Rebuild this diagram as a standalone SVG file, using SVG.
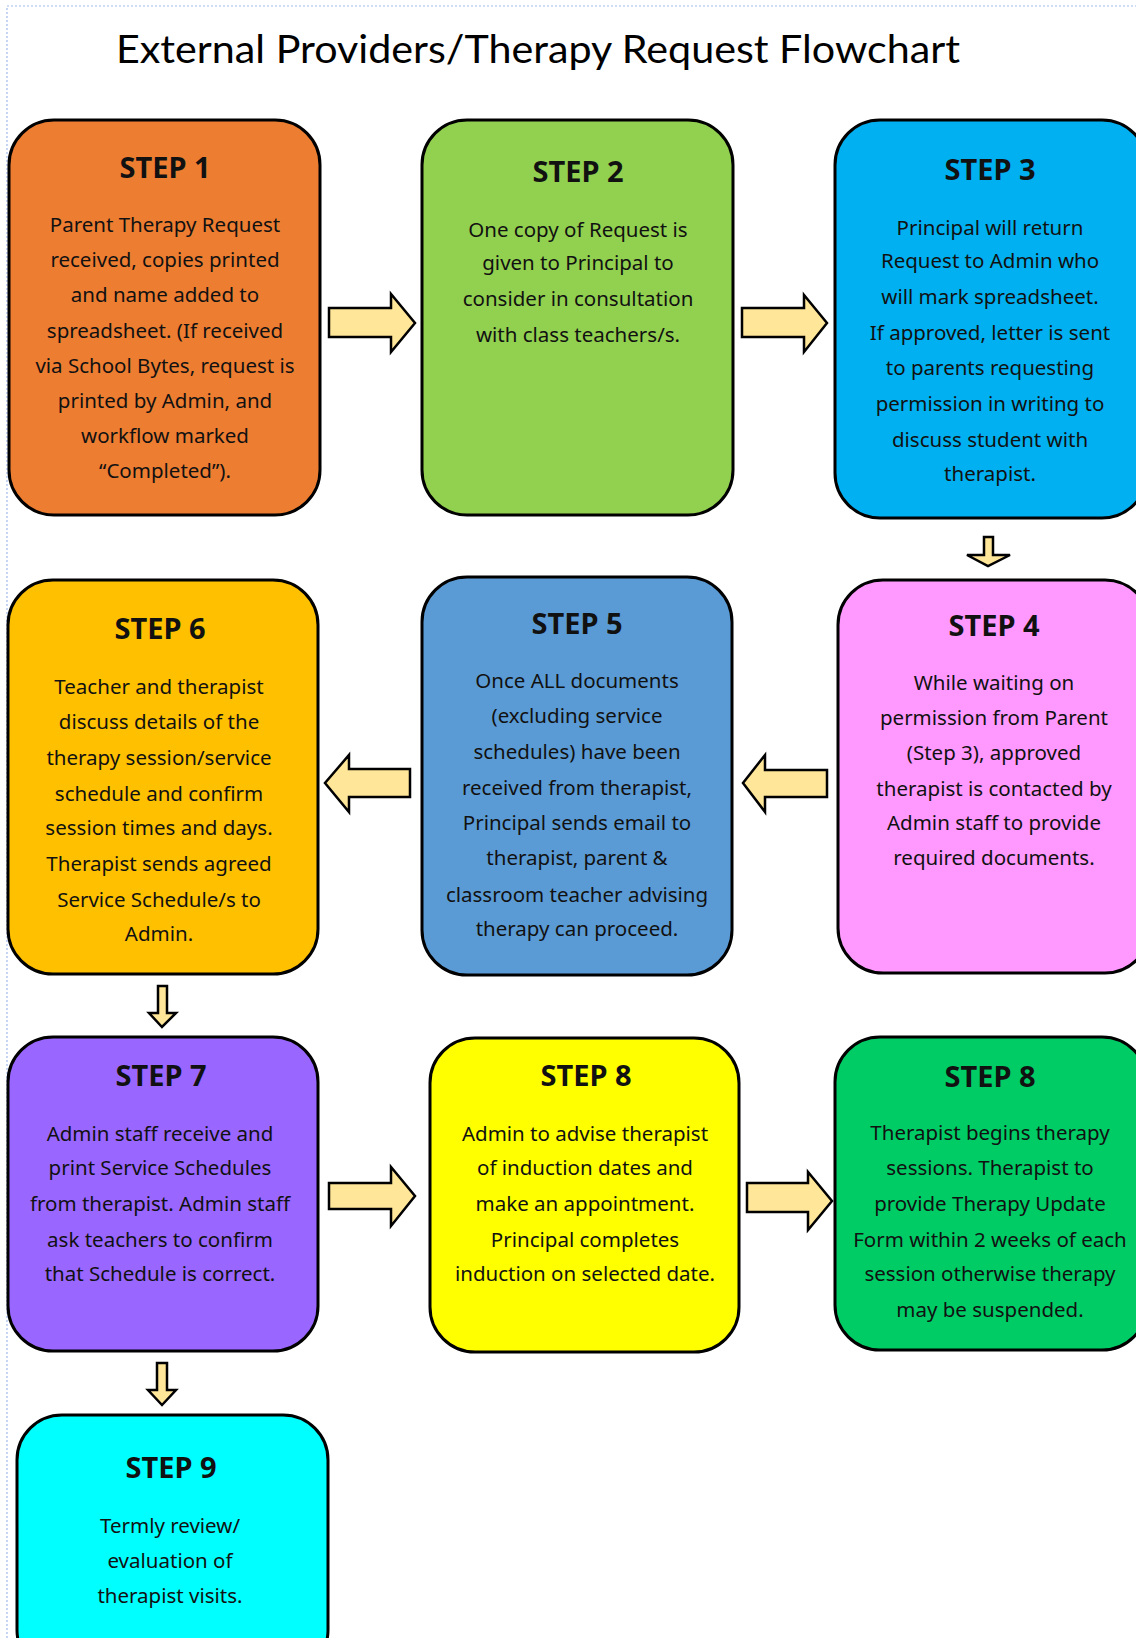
<svg xmlns="http://www.w3.org/2000/svg" width="1136" height="1638" viewBox="0 0 1136 1638">
<style>
.box{stroke:#000;stroke-width:3}
.arrow{fill:#FFE699;stroke:#000;stroke-width:2.5;stroke-linejoin:miter}
.t{font-family:"Noto Sans","Open Sans",sans-serif;font-weight:bold;font-size:29px;fill:#111;text-anchor:middle}
.b{font-family:"Noto Sans","Open Sans",sans-serif;font-size:20.5px;fill:#111;text-anchor:middle}
.h{font-family:Lato,"Open Sans",sans-serif;font-size:39px;fill:#000}
.frame{fill:none;stroke:#9fbbee;stroke-width:1.2;stroke-dasharray:2 2}
</style>
<rect width="1136" height="1638" fill="#fff"/>
<path class="frame" d="M7 1638 V6 H1136"/>
<text class="h" x="116" y="63" textLength="844" lengthAdjust="spacingAndGlyphs">External Providers/Therapy Request Flowchart</text>

<g id="connectors">
<polygon class="arrow" points="329,308 391,308 391,294 415,323 391,352 391,337 329,337"/>
<polygon class="arrow" points="742,308 804,308 804,295 827,323 804,352 804,337 742,337"/>
<polygon class="arrow" points="984,537 993,537 993,555 1010,555 988,566 967,555 984,555"/>
<polygon class="arrow" points="827,770 765,770 765,755 743,783 765,812 765,797 827,797"/>
<polygon class="arrow" points="410,769 349,769 349,755 325,783 349,812 349,797 410,797"/>
<polygon class="arrow" points="158,986 167,986 167,1013 176,1013 162,1027 149,1013 158,1013"/>
<polygon class="arrow" points="329,1183 391,1183 391,1167 415,1196 391,1226 391,1209 329,1209"/>
<polygon class="arrow" points="747,1183 808,1183 808,1172 832,1201 808,1230 808,1212 747,1212"/>
<polygon class="arrow" points="157,1363 167,1363 167,1390 176,1390 162,1405 148,1390 157,1390"/>
</g>

<g id="step1">
<rect class="box" x="9" y="120" width="311" height="395" rx="45" fill="#ED7D31"/>
<text class="t" x="165" y="178">STEP 1</text>
<text class="b" x="165" y="232">Parent Therapy Request</text>
<text class="b" x="165" y="267">received, copies printed</text>
<text class="b" x="165" y="302">and name added to</text>
<text class="b" x="165" y="338">spreadsheet. (If received</text>
<text class="b" x="165" y="373">via School Bytes, request is</text>
<text class="b" x="165" y="408">printed by Admin, and</text>
<text class="b" x="165" y="443">workflow marked</text>
<text class="b" x="165" y="478">“Completed”).</text>
</g>

<g id="step2">
<rect class="box" x="422" y="120" width="311" height="395" rx="45" fill="#92D050"/>
<text class="t" x="578" y="182">STEP 2</text>
<text class="b" x="578" y="237">One copy of Request is</text>
<text class="b" x="578" y="270">given to Principal to</text>
<text class="b" x="578" y="306">consider in consultation</text>
<text class="b" x="578" y="342">with class teachers/s.</text>
</g>

<g id="step3">
<rect class="box" x="835" y="120" width="312" height="398" rx="45" fill="#00B0F0"/>
<text class="t" x="990" y="180">STEP 3</text>
<text class="b" x="990" y="235">Principal will return</text>
<text class="b" x="990" y="268">Request to Admin who</text>
<text class="b" x="990" y="304">will mark spreadsheet.</text>
<text class="b" x="990" y="340">If approved, letter is sent</text>
<text class="b" x="990" y="375">to parents requesting</text>
<text class="b" x="990" y="411">permission in writing to</text>
<text class="b" x="990" y="447">discuss student with</text>
<text class="b" x="990" y="481">therapist.</text>
</g>

<g id="step4">
<rect class="box" x="838" y="580" width="312" height="393" rx="45" fill="#FF99FF"/>
<text class="t" x="994" y="636">STEP 4</text>
<text class="b" x="994" y="690">While waiting on</text>
<text class="b" x="994" y="725">permission from Parent</text>
<text class="b" x="994" y="760">(Step 3), approved</text>
<text class="b" x="994" y="796">therapist is contacted by</text>
<text class="b" x="994" y="830">Admin staff to provide</text>
<text class="b" x="994" y="865">required documents.</text>
</g>

<g id="step5">
<rect class="box" x="422" y="577" width="310" height="398" rx="45" fill="#5B9BD5"/>
<text class="t" x="577" y="634">STEP 5</text>
<text class="b" x="577" y="688">Once ALL documents</text>
<text class="b" x="577" y="723">(excluding service</text>
<text class="b" x="577" y="759">schedules) have been</text>
<text class="b" x="577" y="795">received from therapist,</text>
<text class="b" x="577" y="830">Principal sends email to</text>
<text class="b" x="577" y="865">therapist, parent &amp;</text>
<text class="b" x="577" y="902">classroom teacher advising</text>
<text class="b" x="577" y="936">therapy can proceed.</text>
</g>

<g id="step6">
<rect class="box" x="8" y="580" width="310" height="394" rx="45" fill="#FFC000"/>
<text class="t" x="160" y="639">STEP 6</text>
<text class="b" x="159" y="694">Teacher and therapist</text>
<text class="b" x="159" y="729">discuss details of the</text>
<text class="b" x="159" y="765">therapy session/service</text>
<text class="b" x="159" y="801">schedule and confirm</text>
<text class="b" x="159" y="835">session times and days.</text>
<text class="b" x="159" y="871">Therapist sends agreed</text>
<text class="b" x="159" y="907">Service Schedule/s to</text>
<text class="b" x="159" y="941">Admin.</text>
</g>

<g id="step7">
<rect class="box" x="8" y="1037" width="310" height="314" rx="45" fill="#9966FF"/>
<text class="t" x="161" y="1086">STEP 7</text>
<text class="b" x="160" y="1141">Admin staff receive and</text>
<text class="b" x="160" y="1175">print Service Schedules</text>
<text class="b" x="160" y="1211">from therapist. Admin staff</text>
<text class="b" x="160" y="1247">ask teachers to confirm</text>
<text class="b" x="160" y="1281">that Schedule is correct.</text>
</g>

<g id="step8a">
<rect class="box" x="430" y="1038" width="309" height="314" rx="45" fill="#FFFF00"/>
<text class="t" x="586" y="1086">STEP 8</text>
<text class="b" x="585" y="1141">Admin to advise therapist</text>
<text class="b" x="585" y="1175">of induction dates and</text>
<text class="b" x="585" y="1211">make an appointment.</text>
<text class="b" x="585" y="1247">Principal completes</text>
<text class="b" x="585" y="1281">induction on selected date.</text>
</g>

<g id="step8b">
<rect class="box" x="835" y="1037" width="312" height="313" rx="45" fill="#00CC66"/>
<text class="t" x="990" y="1087">STEP 8</text>
<text class="b" x="990" y="1140">Therapist begins therapy</text>
<text class="b" x="990" y="1175">sessions. Therapist to</text>
<text class="b" x="990" y="1211">provide Therapy Update</text>
<text class="b" x="990" y="1247">Form within 2 weeks of each</text>
<text class="b" x="990" y="1281">session otherwise therapy</text>
<text class="b" x="990" y="1317">may be suspended.</text>
</g>

<g id="step9">
<rect class="box" x="17" y="1415" width="311" height="260" rx="45" fill="#00FFFF"/>
<text class="t" x="171" y="1478">STEP 9</text>
<text class="b" x="170" y="1533">Termly review/</text>
<text class="b" x="170" y="1568">evaluation of</text>
<text class="b" x="170" y="1603">therapist visits.</text>
</g>
</svg>
